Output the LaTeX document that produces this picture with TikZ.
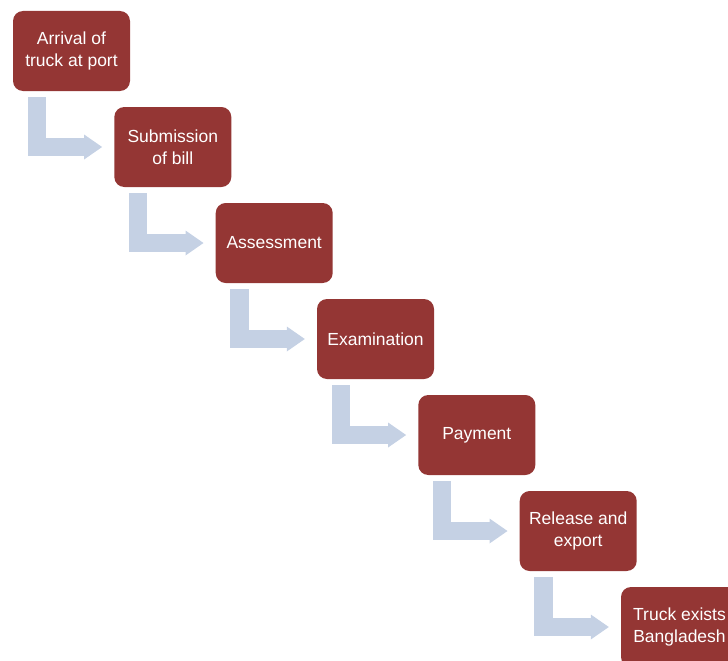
\documentclass[tikz,border=0pt]{standalone}
\usepackage{fontspec}
\setmainfont{Liberation Sans}
\usetikzlibrary{arrows.meta}
\definecolor{portred}{RGB}{148, 54, 52}
\definecolor{portblue}{RGB}{197, 209, 228}

\begin{document}
\begin{tikzpicture}[x=1pt, y=-1pt,
  stage/.style={rectangle, rounded corners=10pt, fill=portred, text=white,
    minimum width=117pt, minimum height=80pt, inner sep=2pt, align=center,
    font=\fontsize{17.5}{21.5}\selectfont},
  flow/.style={draw=portblue, line width=18.5pt,
    -{Triangle[width=25pt, length=18pt, line width=0pt]}}]
  \useasboundingbox (0,0) rectangle (728,661);

  % Stages
  \node[stage] (arrival) at (71.5,51) {Arrival of\\truck at port};
  \node[stage] (submission) at (172.8,147) {Submission\\of bill};
  \node[stage] (assessment) at (274.2,243) {Assessment};
  \node[stage] (examination) at (375.5,339) {Examination};
  \node[stage] (payment) at (476.8,435) {Payment};
  \node[stage] (release) at (578.2,531) {Release and\\export};
  \node[stage] (exit) at (679.5,627) {Truck exists\\Bangladesh};

  % Bent arrows
  \draw[flow] ([xshift=24pt, yshift=-6pt]arrival.south west) |- ([xshift=-12pt]submission.west);
  \draw[flow] ([xshift=24pt, yshift=-6pt]submission.south west) |- ([xshift=-12pt]assessment.west);
  \draw[flow] ([xshift=24pt, yshift=-6pt]assessment.south west) |- ([xshift=-12pt]examination.west);
  \draw[flow] ([xshift=24pt, yshift=-6pt]examination.south west) |- ([xshift=-12pt]payment.west);
  \draw[flow] ([xshift=24pt, yshift=-6pt]payment.south west) |- ([xshift=-12pt]release.west);
  \draw[flow] ([xshift=24pt, yshift=-6pt]release.south west) |- ([xshift=-12pt]exit.west);
\end{tikzpicture}
\end{document}
